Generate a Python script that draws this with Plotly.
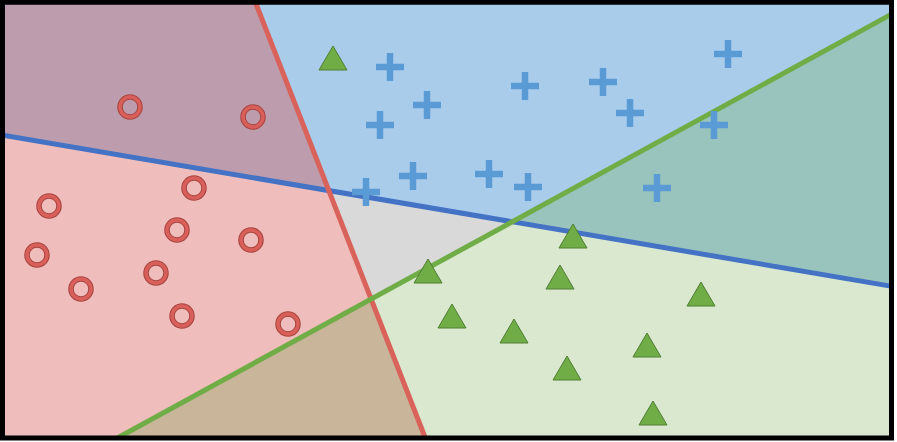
import plotly.graph_objects as go

# ---- data (pixel-like coordinate system, y downward) ----
circle_x = [130, 253, 194, 49, 177, 251, 37, 156, 81, 182, 288]
circle_y = [107, 117, 188, 206, 230, 240, 255, 273, 289, 316, 324]

plus_x = [390, 427, 380, 413, 366, 489, 528, 525, 603, 630, 728, 714, 657]
plus_y = [67, 105, 125, 176, 192, 174, 187, 86, 82, 113, 54, 125, 188]

tri_x = [333, 428, 573, 560, 452, 514, 567, 701, 647, 653]
tri_y = [61, 274, 239, 280, 319, 334, 371, 297, 348, 416]

# decision boundaries: two points on each line
red_line_x = [256.5, 424.5]
red_line_y = [5, 436]
blue_line_x = [5, 890]
blue_line_y = [135.5, 286]
green_line_x = [121, 890]
green_line_y = [436, 15]

# frame of the plotting area
frame_x = [0, 892]
frame_y = [0, 438]

W, H = 897, 442

# triangle glyph geometry (marker styling, in axis units)
TRI_HALF_W = 14
TRI_UP = 15
TRI_DOWN = 9


def side(lx, ly, px, py):
    return (lx[1] - lx[0]) * (py - ly[0]) - (ly[1] - ly[0]) * (px - lx[0])


def clip_half(poly, lx, ly, sign):
    out = []
    n = len(poly)
    for i in range(n):
        p = poly[i]
        q = poly[(i + 1) % n]
        sp = sign * side(lx, ly, *p)
        sq = sign * side(lx, ly, *q)
        if sp >= 0:
            out.append(p)
        if (sp >= 0) != (sq >= 0):
            t = sp / (sp - sq)
            out.append((p[0] + t * (q[0] - p[0]), p[1] + t * (q[1] - p[1])))
    return out


def extend_line(lx, ly):
    # Liang-Barsky clip of infinite line against frame
    x0, y0 = lx[0], ly[0]
    dx, dy = lx[1] - lx[0], ly[1] - ly[0]
    t0, t1 = -1e9, 1e9
    for p, q in ((-dx, x0 - frame_x[0]), (dx, frame_x[1] - x0),
                 (-dy, y0 - frame_y[0]), (dy, frame_y[1] - y0)):
        if p == 0:
            continue
        r = q / p
        if p < 0:
            t0 = max(t0, r)
        else:
            t1 = min(t1, r)
    return [x0 + t0 * dx, x0 + t1 * dx], [y0 + t0 * dy, y0 + t1 * dy]


rect = [(frame_x[0], frame_y[0]), (frame_x[1], frame_y[0]),
        (frame_x[1], frame_y[1]), (frame_x[0], frame_y[1])]

# sign so that +1 means "inside the class half-plane"
red_sign = 1 if side(red_line_x, red_line_y, 0, 0) > 0 else -1
blue_sign = 1 if side(blue_line_x, blue_line_y, 0, 0) > 0 else -1
green_sign = 1 if side(green_line_x, green_line_y, W, H) > 0 else -1

region_colors = {
    (1, 0, 0): "#EFBDBC",
    (1, 1, 0): "#BD9DAD",
    (0, 1, 0): "#AACCEB",
    (0, 1, 1): "#99C3BD",
    (0, 0, 1): "#D9E8CE",
    (1, 0, 1): "#C9B59A",
    (0, 0, 0): "#D9D9D9",
}

fig = go.Figure()

for (r, b, g), col in region_colors.items():
    poly = rect
    poly = clip_half(poly, red_line_x, red_line_y, red_sign if r else -red_sign)
    poly = clip_half(poly, blue_line_x, blue_line_y, blue_sign if b else -blue_sign)
    poly = clip_half(poly, green_line_x, green_line_y, green_sign if g else -green_sign)
    if len(poly) < 3:
        continue
    xs = [p[0] for p in poly] + [poly[0][0]]
    ys = [p[1] for p in poly] + [poly[0][1]]
    fig.add_trace(go.Scatter(x=xs, y=ys, mode="lines", fill="toself",
                             fillcolor=col, line=dict(width=0, color=col),
                             hoverinfo="skip", showlegend=False))

for lx, ly, col in ((blue_line_x, blue_line_y, "#4472C4"),
                    (red_line_x, red_line_y, "#D9625B"),
                    (green_line_x, green_line_y, "#70AD47")):
    ex, ey = extend_line(lx, ly)
    fig.add_trace(go.Scatter(x=ex, y=ey, mode="lines",
                             line=dict(color=col, width=5),
                             hoverinfo="skip", showlegend=False))

# red rings (dark outline + lighter core)
fig.add_trace(go.Scatter(x=circle_x, y=circle_y, mode="markers",
                         marker=dict(symbol="circle-open", size=20, color="#A8443F",
                                     line=dict(width=5.5)),
                         showlegend=False))
fig.add_trace(go.Scatter(x=circle_x, y=circle_y, mode="markers",
                         marker=dict(symbol="circle-open", size=20, color="#D9605A",
                                     line=dict(width=3.4)),
                         showlegend=False))

# blue pluses
fig.add_trace(go.Scatter(x=plus_x, y=plus_y, mode="markers",
                         marker=dict(symbol="cross-thin-open", size=20, color="#5B9BD5",
                                     line=dict(width=6.5)),
                         showlegend=False))

# green triangles (drawn as small filled glyphs around each data point)
txs, tys = [], []
for x, y in zip(tri_x, tri_y):
    txs += [x - TRI_HALF_W, x + TRI_HALF_W, x, x - TRI_HALF_W, None]
    tys += [y + TRI_DOWN, y + TRI_DOWN, y - TRI_UP, y + TRI_DOWN, None]
fig.add_trace(go.Scatter(x=txs, y=tys, mode="lines", fill="toself",
                         fillcolor="#70AD47", line=dict(color="#507E32", width=1),
                         showlegend=False))

fig.add_shape(type="rect", xref="x", yref="y",
              x0=2.5, x1=891.5, y0=2.3, y1=438,
              line=dict(color="black", width=5), layer="above")

fig.update_layout(
    width=W, height=H,
    margin=dict(l=0, r=0, t=0, b=0, pad=0),
    paper_bgcolor="white", plot_bgcolor="white",
    xaxis=dict(range=[0, W], visible=False, fixedrange=True),
    yaxis=dict(range=[H, 0], visible=False, fixedrange=True),
    showlegend=False,
)

fig.write_html("out.html",
               config={"displayModeBar": False},
               post_script="document.body.style.margin='0';document.body.style.overflow='hidden';")
